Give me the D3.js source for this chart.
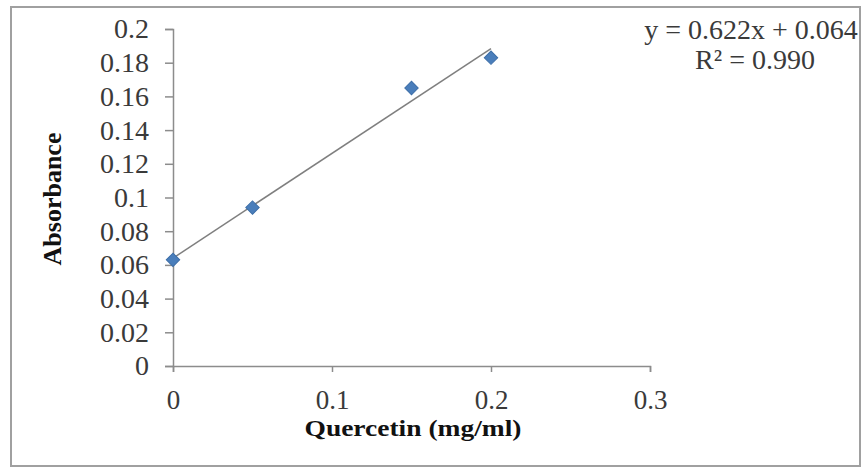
<!DOCTYPE html>
<html>
<head>
<meta charset="utf-8">
<script src="https://cdn.jsdelivr.net/npm/d3@7"></script>
<style>
  body { margin: 0; background: #fff; }
  svg text { font-family: "Liberation Serif", "Times New Roman", serif; }
</style>
</head>
<body>
<svg id="chart" width="868" height="469"></svg>
<script>
// data
const concentration = [0, 0.05, 0.15, 0.2];
const absorbance = [0.063, 0.094, 0.165, 0.183];
const xTicks = [0, 0.1, 0.2, 0.3];
const yTicks = [0, 0.02, 0.04, 0.06, 0.08, 0.1, 0.12, 0.14, 0.16, 0.18, 0.2];
const slope = 0.622;
const intercept = 0.064;
const rSquared = 0.990;
const trendRange = [0, 0.2];

const svg = d3.select('#chart');

// outer frame
svg.append('rect')
    .attr('x', 11).attr('y', 7)
    .attr('width', 849).attr('height', 459)
    .attr('fill', 'none')
    .attr('stroke', '#a0a0a0')
    .attr('stroke-width', 2);

const x = d3.scaleLinear().domain([0, 0.3]).range([173, 650]);
const y = d3.scaleLinear().domain([0, 0.2]).range([366, 29]);

// axes
const yAxis = svg.append('g')
    .attr('transform', 'translate(173,0)')
    .call(d3.axisLeft(y).tickValues(yTicks).tickSize(8).tickPadding(16)
        .tickFormat(d => String(+d.toFixed(2))));
const xAxis = svg.append('g')
    .attr('transform', 'translate(0,366)')
    .call(d3.axisBottom(x).tickValues(xTicks).tickSize(6).tickPadding(18)
        .tickFormat(d => String(+d.toFixed(1))));

[yAxis, xAxis].forEach(g => {
    g.select('.domain').attr('stroke', '#8c8c8c').attr('stroke-width', 1.5);
    g.selectAll('.tick line').attr('stroke', '#8c8c8c').attr('stroke-width', 1.5);
    g.selectAll('.tick text')
        .attr('fill', '#3a3a3a')
        .style('font-family', '"Liberation Serif", serif');
});
yAxis.selectAll('.tick text').style('font-size', '28px');
xAxis.selectAll('.tick text').style('font-size', '27px');

// trend line
svg.append('line')
    .attr('x1', x(trendRange[0])).attr('y1', y(slope * trendRange[0] + intercept))
    .attr('x2', x(trendRange[1])).attr('y2', y(slope * trendRange[1] + intercept))
    .attr('stroke', '#7f7f7f')
    .attr('stroke-width', 1.5);

// markers
svg.selectAll('.pt')
    .data(concentration.map((c, i) => ({ c, a: absorbance[i] })))
    .enter()
    .append('path')
    .attr('class', 'pt')
    .attr('d', d3.symbol().type(d3.symbolSquare).size(90))
    .attr('transform', d => `translate(${x(d.c)},${y(d.a)}) rotate(45)`)
    .attr('fill', '#4a7ebb')
    .attr('stroke', '#3d6ea8')
    .attr('stroke-width', 1);

// axis titles
svg.append('text')
    .attr('transform', 'translate(61,199) rotate(-90)')
    .attr('text-anchor', 'middle')
    .attr('font-weight', 'bold')
    .attr('font-size', 26)
    .attr('fill', '#111')
    .text('Absorbance');

svg.append('text')
    .attr('x', 413).attr('y', 436)
    .attr('text-anchor', 'middle')
    .attr('font-weight', 'bold')
    .attr('font-size', 24)
    .attr('textLength', 217)
    .attr('lengthAdjust', 'spacingAndGlyphs')
    .attr('fill', '#111')
    .text('Quercetin (mg/ml)');

// equation
const eq = svg.append('text')
    .attr('text-anchor', 'middle')
    .attr('font-size', 28)
    .attr('fill', '#3a3a3a');
eq.append('tspan').attr('x', 751).attr('y', 39)
    .text(`y = ${slope.toFixed(3)}x + ${intercept.toFixed(3)}`);
eq.append('tspan').attr('x', 755).attr('y', 69)
    .text(`R² = ${rSquared.toFixed(3)}`);
</script>
</body>
</html>
